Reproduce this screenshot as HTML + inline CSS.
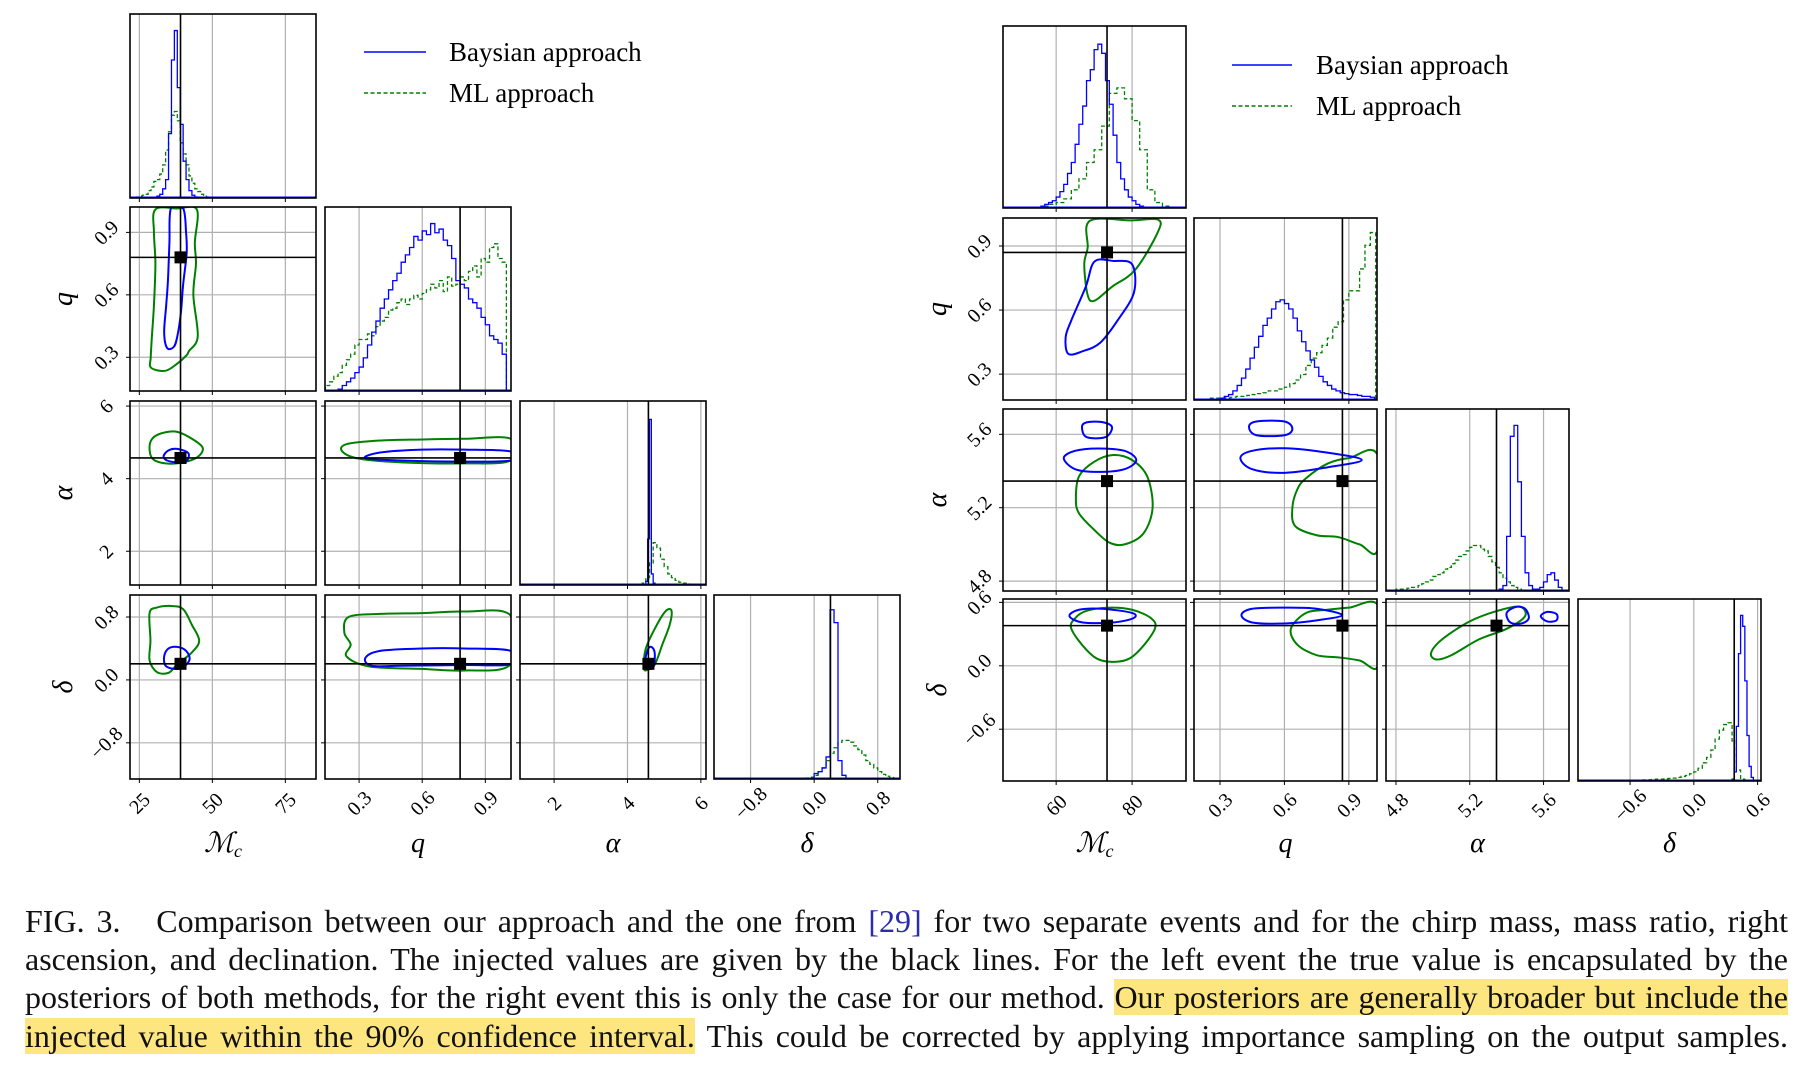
<!DOCTYPE html>
<html><head><meta charset="utf-8">
<style>
html,body{margin:0;padding:0;background:#fff;}
body{width:1806px;height:1066px;position:relative;overflow:hidden;font-family:"Liberation Serif",serif;}
#chart{position:absolute;left:0;top:0;}
#caption{position:absolute;left:25px;top:902px;width:1763px;font-size:32px;line-height:38.2px;color:#111;}
.ln{text-align:justify;text-align-last:justify;white-space:normal;height:38.2px;overflow:hidden;}
.hl{background:#fde680;}
.ref{color:#2b2bb0;}
</style></head>
<body>
<svg id="chart" width="1806" height="900"></svg>
<div id="caption">
<div class="ln">FIG. 3.&nbsp;&nbsp; Comparison between our approach and the one from <span class="ref">[29]</span> for two separate events and for the chirp mass, mass ratio, right</div>
<div class="ln">ascension, and declination. The injected values are given by the black lines. For the left event the true value is encapsulated by the</div>
<div class="ln">posteriors of both methods, for the right event this is only the case for our method. <span class="hl">Our posteriors are generally broader but include the</span></div>
<div class="ln"><span class="hl">injected value within the 90% confidence interval.</span> This could be corrected by applying importance sampling on the output samples.</div>
</div>
<script>
// ---------- axis configuration (data) ----------
const L_RANGES = [[21.8,85.5],[0.138,1.022],[1.07,6.14],[-1.26,1.08]];
const R_RANGES = [[46,94.2],[0.179,1.031],[4.746,5.738],[-1.09,0.632]];
const L_TRUTH = [39.1,0.78,4.57,0.205];
const R_TRUTH = [73.4,0.87,5.345,0.38];
const L_TICKS = [[25,50,75],[0.3,0.6,0.9],[2,4,6],[-0.8,0,0.8]];
const L_TICK_LABELS = [["25","50","75"],["0.3","0.6","0.9"],["2","4","6"],["−0.8","0.0","0.8"]];
const R_TICKS = [[60,80],[0.3,0.6,0.9],[4.8,5.2,5.6],[-0.6,0,0.6]];
const R_TICK_LABELS = [["60","80"],["0.3","0.6","0.9"],["4.8","5.2","5.6"],["−0.6","0.0","0.6"]];
const PARAM_LABELS = ["ℳ","q","α","δ"];

// ---------- histograms: [start, binWidth] and relative heights ----------
const L_MC_BIN = [30,1];
const L_MC_BAYES = [0,0.01,0.02,0.05,0.1,0.35,0.75,0.91,0.6,0.4,0.2,0.1,0.04,0.015,0.005,0];
const L_MC_ML_BIN = [24,1];
const L_MC_ML = [0.005,0.01,0.015,0.02,0.04,0.06,0.09,0.1,0.13,0.18,0.26,0.36,0.45,0.47,0.42,0.3,0.24,0.18,0.12,0.08,0.05,0.035,0.02,0.01,0.005,0.003];
const L_Q_BIN = [0.18,0.02];
const L_Q_BAYES = [0,0.01,0.03,0.05,0.07,0.1,0.13,0.18,0.25,0.32,0.38,0.45,0.5,0.55,0.6,0.64,0.7,0.74,0.78,0.84,0.82,0.87,0.85,0.91,0.86,0.88,0.82,0.79,0.72,0.6,0.58,0.56,0.5,0.48,0.45,0.4,0.36,0.3,0.28,0.26,0.2];
const L_Q_ML_BIN = [0.14,0.02];
const L_Q_ML = [0.03,0.05,0.08,0.1,0.14,0.17,0.2,0.25,0.28,0.28,0.31,0.3,0.35,0.38,0.4,0.44,0.45,0.48,0.5,0.47,0.5,0.52,0.5,0.53,0.55,0.58,0.56,0.6,0.54,0.62,0.57,0.58,0.62,0.6,0.65,0.68,0.62,0.72,0.7,0.78,0.8,0.72,0.7];
const L_A_BIN = [4.5,0.05];
const L_A_BAYES = [0.02,0.25,0.9,0.06,0.01];
const L_A_ML_BIN = [4.4,0.1];
const L_A_ML = [0.01,0.04,0.12,0.23,0.2,0.14,0.1,0.06,0.04,0.025,0.015,0.01,0.005];
const L_D_BIN = [0.0,0.05];
const L_D_BAYES = [0.03,0.04,0.06,0.12,0.92,0.85,0.1,0.02,0];
const L_D_ML_BIN = [-0.1,0.05];
const L_D_ML = [0.005,0.01,0.02,0.04,0.06,0.1,0.14,0.17,0.2,0.21,0.21,0.2,0.18,0.16,0.13,0.1,0.08,0.06,0.04,0.025,0.015,0.008,0.003];

const R_MC_BIN = [56,1];
const R_MC_BAYES = [0.01,0.02,0.03,0.04,0.06,0.09,0.13,0.19,0.25,0.35,0.46,0.56,0.7,0.76,0.87,0.9,0.85,0.7,0.57,0.4,0.25,0.16,0.1,0.06,0.04,0.02,0.01,0.005];
const R_MC_ML_BIN = [54,2];
const R_MC_ML = [0.005,0.01,0.02,0.03,0.05,0.1,0.16,0.25,0.32,0.45,0.63,0.66,0.6,0.48,0.32,0.1,0.03,0.01];
const R_Q_BIN = [0.3,0.02];
const R_Q_BAYES = [0.01,0.02,0.03,0.05,0.08,0.12,0.17,0.23,0.29,0.35,0.41,0.45,0.5,0.54,0.55,0.53,0.5,0.45,0.38,0.32,0.27,0.22,0.18,0.13,0.1,0.08,0.06,0.05,0.04,0.035,0.03,0.03,0.025,0.02,0.02,0.015];
const R_Q_ML_BIN = [0.2,0.025];
const R_Q_ML = [0.005,0.005,0.01,0.01,0.01,0.012,0.015,0.02,0.02,0.025,0.03,0.035,0.04,0.05,0.05,0.06,0.07,0.09,0.11,0.14,0.19,0.23,0.26,0.3,0.34,0.4,0.43,0.55,0.6,0.6,0.72,0.85,0.92];
const R_A_BIN = [5.36,0.02];
const R_A_BAYES = [0.01,0.03,0.3,0.85,0.91,0.6,0.3,0.1,0.03,0.01,0.01,0.02,0.05,0.09,0.1,0.06,0.02,0.005];
const R_A_ML_BIN = [4.76,0.02];
const R_A_ML = [0.005,0.005,0.01,0.01,0.01,0.015,0.02,0.02,0.03,0.04,0.05,0.06,0.08,0.09,0.1,0.12,0.13,0.15,0.17,0.19,0.2,0.22,0.24,0.25,0.25,0.23,0.22,0.19,0.16,0.13,0.1,0.07,0.05,0.03,0.02,0.01,0.005];
const R_D_BIN = [0.36,0.02];
const R_D_BAYES = [0.01,0.05,0.3,0.7,0.91,0.85,0.55,0.25,0.08,0.02,0.005];
const R_D_ML_BIN = [-0.6,0.04];
const R_D_ML = [0.003,0.004,0.005,0.006,0.007,0.008,0.01,0.01,0.012,0.014,0.016,0.02,0.025,0.03,0.04,0.05,0.07,0.1,0.13,0.17,0.23,0.28,0.31,0.32,0.22,0.06,0.01];

// ---------- 90% contours (data coordinates) ----------
const L_Q_MC_ML = [[30.5,1.01],[38,1.015],[44.7,1.01],[44,0.85],[44.4,0.75],[43.5,0.6],[45,0.40],[42,0.33],[41.2,0.31],[38,0.27],[33.9,0.235],[29,0.25],[28.9,0.3],[29.3,0.40],[30,0.55],[30.5,0.75],[30,0.9]];
const L_Q_MC_BAYES = [[35.8,1.015],[40,1.015],[41,0.9],[41.2,0.8],[40,0.65],[39.2,0.51],[38,0.4],[36.8,0.35],[34.5,0.345],[33.5,0.42],[34.2,0.55],[34.8,0.67],[35.3,0.85]];
const L_A_MC_ML = [[28.5,4.9],[30,5.15],[34,5.28],[38,5.29],[43,5.1],[46.7,4.85],[45,4.6],[40,4.45],[34,4.42],[29.5,4.55]];
const L_A_MC_BAYES = [[33.3,4.62],[35,4.78],[38,4.82],[41.8,4.7],[41,4.47],[38,4.45],[34.5,4.5]];
const L_D_MC_ML = [[28.5,0.85],[31,0.92],[36,0.94],[40,0.9],[43,0.7],[45.5,0.5],[43,0.35],[38,0.2],[35,0.09],[31,0.1],[28.5,0.25],[28.8,0.5]];
const L_D_MC_BAYES = [[33.5,0.3],[35,0.4],[38,0.42],[41,0.37],[42.2,0.26],[40,0.16],[37,0.14],[34,0.18]];
const L_A_Q_ML = [[0.22,4.75],[0.24,4.95],[0.4,5.05],[0.6,5.08],[0.8,5.1],[1.02,5.1],[1.02,4.5],[0.8,4.42],[0.5,4.45],[0.3,4.55]];
const L_A_Q_BAYES = [[0.33,4.56],[0.4,4.72],[0.6,4.8],[0.8,4.8],[1.02,4.75],[1.02,4.5],[0.8,4.47],[0.5,4.5]];
const L_D_Q_ML = [[0.23,0.6],[0.25,0.8],[0.4,0.84],[0.6,0.85],[0.8,0.87],[1.02,0.82],[1.02,0.2],[0.8,0.12],[0.6,0.14],[0.35,0.17],[0.24,0.3],[0.26,0.45]];
const L_D_Q_BAYES = [[0.33,0.28],[0.4,0.37],[0.6,0.4],[0.8,0.4],[1.02,0.37],[1.02,0.2],[0.8,0.19],[0.5,0.18],[0.36,0.18]];
const L_D_A_ML = [[4.45,0.15],[4.5,0.4],[4.8,0.7],[5.05,0.88],[5.2,0.88],[5.15,0.7],[4.95,0.45],[4.75,0.2],[4.55,0.13]];
const L_D_A_BAYES = [[4.47,0.2],[4.55,0.38],[4.65,0.42],[4.74,0.35],[4.72,0.18],[4.6,0.14]];

const R_Q_MC_ML = [[68.9,1.018],[80,1.02],[86.9,1.023],[86.6,0.958],[80.8,0.788],[74.7,0.709],[70.1,0.644],[68.3,0.67],[67.4,0.814],[68.3,0.892]];
const R_Q_MC_BAYES = [[70.1,0.827],[75,0.83],[80,0.814],[80.5,0.683],[76.2,0.552],[71.6,0.447],[67.1,0.408],[63.2,0.395],[62.5,0.473],[64,0.552],[67.8,0.709]];
const R_A_MC_ML = [[66,5.37],[70,5.45],[75,5.487],[80,5.46],[84,5.37],[85.4,5.2],[83,5.06],[78,5.0],[74,5.01],[70,5.08],[66,5.17],[65.2,5.25]];
const R_A_MC_BAYES1 = [[66.8,5.64],[68,5.665],[72,5.667],[74.7,5.64],[73,5.585],[68,5.585]];
const R_A_MC_BAYES2 = [[62,5.47],[65,5.51],[71,5.523],[78,5.51],[81.1,5.46],[78,5.41],[71,5.395],[65,5.41]];
const R_D_MC_ML = [[65,0.45],[68,0.52],[74,0.55],[80,0.53],[85,0.45],[86,0.35],[82,0.15],[78,0.05],[72,0.05],[68,0.15],[64,0.35]];
const R_D_MC_BAYES = [[63.5,0.47],[66,0.53],[72,0.54],[80,0.5],[80.3,0.45],[75,0.41],[67,0.41]];
const R_A_Q_ML = [[0.7,5.36],[0.8,5.44],[0.9,5.47],[1.036,5.48],[1.036,4.98],[0.95,5.0],[0.85,5.04],[0.75,5.05],[0.65,5.1],[0.637,5.2],[0.66,5.3]];
const R_A_Q_BAYES1 = [[0.435,5.64],[0.47,5.67],[0.6,5.67],[0.637,5.63],[0.6,5.595],[0.47,5.595]];
const R_A_Q_BAYES2 = [[0.395,5.47],[0.45,5.51],[0.6,5.524],[0.8,5.5],[0.96,5.46],[0.8,5.42],[0.6,5.39],[0.45,5.41]];
const R_D_Q_ML = [[0.7,0.5],[0.8,0.53],[0.9,0.55],[1.036,0.57],[1.036,0.0],[0.95,0.05],[0.85,0.08],[0.75,0.1],[0.66,0.2],[0.63,0.35]];
const R_D_Q_BAYES = [[0.4,0.48],[0.45,0.54],[0.6,0.55],[0.75,0.54],[0.868,0.48],[0.75,0.43],[0.6,0.40],[0.45,0.41]];
const R_D_A_ML = [[4.99,0.12],[5.05,0.25],[5.2,0.42],[5.35,0.52],[5.47,0.56],[5.5,0.47],[5.4,0.35],[5.25,0.25],[5.1,0.1],[5.02,0.06]];
const R_D_A_BAYES1 = [[5.4,0.5],[5.45,0.557],[5.5,0.54],[5.52,0.45],[5.48,0.4],[5.42,0.41]];
const R_D_A_BAYES2 = [[5.585,0.47],[5.62,0.51],[5.67,0.49],[5.67,0.43],[5.62,0.42]];

// ---------- drawing ----------
const NS = "http://www.w3.org/2000/svg";
const svg = document.getElementById("chart");
function mk(tag, attrs, parent){
  const e = document.createElementNS(NS, tag);
  for (const k in attrs) e.setAttribute(k, attrs[k]);
  (parent||svg).appendChild(e);
  return e;
}
const BLUE = "#0000ff", GREEN = "#008000";

function smoothClosed(P){
  const n = P.length;
  let d = "M" + P[0][0] + "," + P[0][1];
  for (let k = 0; k < n; k++) {
    const p0 = P[(k-1+n)%n], p1 = P[k], p2 = P[(k+1)%n], p3 = P[(k+2)%n];
    const c1 = [p1[0] + (p2[0]-p0[0])/6, p1[1] + (p2[1]-p0[1])/6];
    const c2 = [p2[0] - (p3[0]-p1[0])/6, p2[1] - (p3[1]-p1[1])/6];
    d += " C" + c1[0] + "," + c1[1] + " " + c2[0] + "," + c2[1] + " " + p2[0] + "," + p2[1];
  }
  return d + " Z";
}

function drawEvent(cfg){
  const {id, xs, ys, w, h, ranges, truth, ticks, tlabels, hists, contours, legend, ylabX, xlabY} = cfg;
  const defs = mk("defs", {});
  const sx = (i, v) => xs[i] + (v - ranges[i][0]) / (ranges[i][1] - ranges[i][0]) * w;
  const sy = (j, v) => ys[j] + h - (v - ranges[j][0]) / (ranges[j][1] - ranges[j][0]) * h;
  for (let j = 0; j < 4; j++) {
    for (let i = 0; i <= j; i++) {
      const g = mk("g", {});
      
      
      const cid = id + "clip" + i + j;
      const cp = mk("clipPath", {id: cid}, defs);
      mk("rect", {x: xs[i], y: ys[j], width: w, height: h}, cp);
      const inner = mk("g", {"clip-path": "url(#" + cid + ")"}, g);
      ticks[i].forEach(t => {
        const gl = mk("line", {x1: sx(i,t), x2: sx(i,t), y1: ys[j], y2: ys[j]+h, stroke: "#b0b0b0", "stroke-width": 1.2}, inner);
        
        
      });
      if (i !== j) ticks[j].forEach(t => {
        const gl = mk("line", {x1: xs[i], x2: xs[i]+w, y1: sy(j,t), y2: sy(j,t), stroke: "#b0b0b0", "stroke-width": 1.2}, inner);
        
        
      });
      if (i === j) {
        const hs = hists[i];
        [[hs[2], hs[3], GREEN, "4,2.5", 'ml-histogram'], [hs[0], hs[1], BLUE, null, 'bayesian-histogram']].forEach(([bin, vals, col, dash, nm]) => {
          const base = ys[j] + h;
          let d = "M" + sx(i, bin[0]) + "," + base;
          vals.forEach((c, k) => {
            const x0 = sx(i, bin[0] + k*bin[1]), x1 = sx(i, bin[0] + (k+1)*bin[1]);
            const yy = base - c*h;
            d += " L" + x0 + "," + yy + " L" + x1 + "," + yy;
          });
          d += " L" + sx(i, bin[0] + vals.length*bin[1]) + "," + base;
          const p = mk("path", {d: d, fill: "none", stroke: col, "stroke-width": 1.3}, inner);
          if (dash) p.setAttribute("stroke-dasharray", dash);
          
          
        });
        const bl = mk("line", {x1: xs[i], x2: xs[i]+w, y1: ys[j]+h-1, y2: ys[j]+h-1, stroke: BLUE, "stroke-width": 1}, inner);
        
        
        const tl = mk("line", {x1: sx(i, truth[i]), x2: sx(i, truth[i]), y1: ys[j], y2: ys[j]+h, stroke: "#000", "stroke-width": 1.6}, inner);
        
        
      } else {
        const key = j + "" + i;
        (contours[key] || []).forEach(([pts, col]) => {
          const P = pts.map(pt => [sx(i, pt[0]), sy(j, pt[1])]);
          const p = mk("path", {d: smoothClosed(P), fill: "none", stroke: col, "stroke-width": 2, "stroke-linejoin": "round"}, inner);
          
          
        });
        const tv = mk("line", {x1: sx(i, truth[i]), x2: sx(i, truth[i]), y1: ys[j], y2: ys[j]+h, stroke: "#000", "stroke-width": 1.6}, inner);
        
        
        const th = mk("line", {x1: xs[i], x2: xs[i]+w, y1: sy(j, truth[j]), y2: sy(j, truth[j]), stroke: "#000", "stroke-width": 1.6}, inner);
        
        
        const m = mk("rect", {x: sx(i, truth[i]) - 6, y: sy(j, truth[j]) - 6, width: 12, height: 12, fill: "#000"}, inner);
        
        
      }
      ticks[i].forEach(t => mk("line", {x1: sx(i,t), x2: sx(i,t), y1: ys[j]+h, y2: ys[j]+h+4, stroke: "#000", "stroke-width": 1}, g));
      if (i !== j) ticks[j].forEach(t => mk("line", {x1: xs[i]-4, x2: xs[i], y1: sy(j,t), y2: sy(j,t), stroke: "#000", "stroke-width": 1}, g));
      const fr = mk("rect", {x: xs[i], y: ys[j], width: w, height: h, fill: "none", stroke: "#000", "stroke-width": 1.6}, g);
      
      
      if (j === 3) ticks[i].forEach((t, k) => {
        const cx = sx(i,t), cy = ys[j] + h + 24;
        const tx = mk("text", {x: cx, y: cy + 7, "text-anchor": "middle", "font-size": 20, transform: "rotate(-45 " + cx + " " + cy + ")"}, g);
        tx.textContent = tlabels[i][k];
        
        
      });
      if (i === 0 && j > 0) ticks[j].forEach((t, k) => {
        const cx = xs[i] - 24, cy = sy(j,t);
        const tx = mk("text", {x: cx, y: cy + 7, "text-anchor": "middle", "font-size": 20, transform: "rotate(-45 " + cx + " " + cy + ")"}, g);
        tx.textContent = tlabels[j][k];
        
        
      });
    }
  }
  for (let i = 0; i < 4; i++) {
    const t = mk("text", {x: xs[i] + w/2, y: xlabY, "text-anchor": "middle", "font-size": 28, "font-style": "italic"});
    t.textContent = PARAM_LABELS[i];
    if (i === 0) { const s = mk("tspan", {"font-size": 18, dy: 5}, t); s.textContent = "c"; }
    
    
  }
  for (let j = 1; j < 4; j++) {
    const cy = ys[j] + h/2;
    const t = mk("text", {x: ylabX, y: cy + 8, "text-anchor": "middle", "font-size": 28, "font-style": "italic", transform: "rotate(-90 " + ylabX + " " + (cy) + ")"});
    t.textContent = PARAM_LABELS[j];
    
    
  }
  const lg = mk("g", {});
  
  
  const [lx0, lx1, ly, tx, dy] = legend;
  mk("line", {x1: lx0, x2: lx1, y1: ly, y2: ly, stroke: BLUE, "stroke-width": 1.5}, lg);
  mk("line", {x1: lx0, x2: lx1, y1: ly+dy, y2: ly+dy, stroke: GREEN, "stroke-width": 1.5, "stroke-dasharray": "4,2.5"}, lg);
  const t1 = mk("text", {x: tx, y: ly + 9, "font-size": 27}, lg); t1.textContent = "Baysian approach";
  
  
  const t2 = mk("text", {x: tx, y: ly + dy + 9, "font-size": 27}, lg); t2.textContent = "ML approach";
  
  
}

drawEvent({
  id: "left-event", xs: [130,325,520,714], ys: [14,207,401,595], w: 186, h: 184,
  ranges: L_RANGES, truth: L_TRUTH, ticks: L_TICKS, tlabels: L_TICK_LABELS,
  hists: [[L_MC_BIN,L_MC_BAYES,L_MC_ML_BIN,L_MC_ML],[L_Q_BIN,L_Q_BAYES,L_Q_ML_BIN,L_Q_ML],[L_A_BIN,L_A_BAYES,L_A_ML_BIN,L_A_ML],[L_D_BIN,L_D_BAYES,L_D_ML_BIN,L_D_ML]],
  contours: {"10":[[L_Q_MC_ML,GREEN],[L_Q_MC_BAYES,BLUE]],"20":[[L_A_MC_ML,GREEN],[L_A_MC_BAYES,BLUE]],"30":[[L_D_MC_ML,GREEN],[L_D_MC_BAYES,BLUE]],
    "21":[[L_A_Q_ML,GREEN],[L_A_Q_BAYES,BLUE]],"31":[[L_D_Q_ML,GREEN],[L_D_Q_BAYES,BLUE]],"32":[[L_D_A_ML,GREEN],[L_D_A_BAYES,BLUE]]},
  legend: [364,426,52,449,41], ylabX: 64, xlabY: 852
});
drawEvent({
  id: "right-event", xs: [1003,1194,1386,1578], ys: [26,218,409,599], w: 183, h: 182,
  ranges: R_RANGES, truth: R_TRUTH, ticks: R_TICKS, tlabels: R_TICK_LABELS,
  hists: [[R_MC_BIN,R_MC_BAYES,R_MC_ML_BIN,R_MC_ML],[R_Q_BIN,R_Q_BAYES,R_Q_ML_BIN,R_Q_ML],[R_A_BIN,R_A_BAYES,R_A_ML_BIN,R_A_ML],[R_D_BIN,R_D_BAYES,R_D_ML_BIN,R_D_ML]],
  contours: {"10":[[R_Q_MC_ML,GREEN],[R_Q_MC_BAYES,BLUE]],"20":[[R_A_MC_ML,GREEN],[R_A_MC_BAYES1,BLUE],[R_A_MC_BAYES2,BLUE]],"30":[[R_D_MC_ML,GREEN],[R_D_MC_BAYES,BLUE]],
    "21":[[R_A_Q_ML,GREEN],[R_A_Q_BAYES1,BLUE],[R_A_Q_BAYES2,BLUE]],"31":[[R_D_Q_ML,GREEN],[R_D_Q_BAYES,BLUE]],"32":[[R_D_A_ML,GREEN],[R_D_A_BAYES1,BLUE],[R_D_A_BAYES2,BLUE]]},
  legend: [1232,1292,65,1316,41], ylabX: 938, xlabY: 852
});
</script>
</body></html>
